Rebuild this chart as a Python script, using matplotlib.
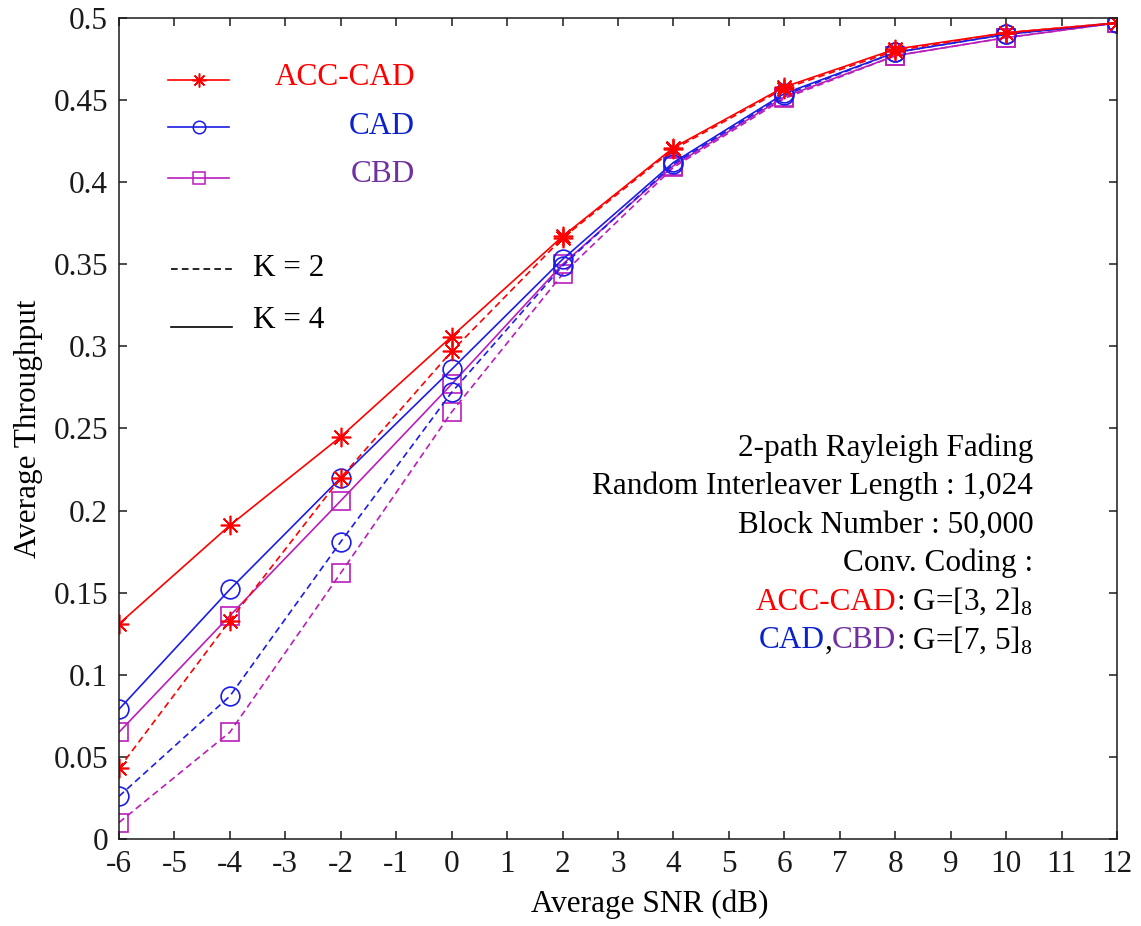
import numpy as np
import matplotlib
matplotlib.use("Agg")
import matplotlib.pyplot as plt
from matplotlib.lines import Line2D
from matplotlib.ticker import FormatStrFormatter

plt.rcParams['font.family'] = ['Liberation Serif', 'DejaVu Serif']
plt.rcParams['mathtext.fontset'] = 'custom'
plt.rcParams['mathtext.rm'] = 'Liberation Serif'
plt.rcParams['axes.unicode_minus'] = False

# DATA
snr = [-6, -4, -2, 0, 2, 4, 6, 8, 10, 12]
acc_k4 = [0.131, 0.191, 0.245, 0.306, 0.367, 0.421, 0.458, 0.481, 0.491, 0.497]
acc_k2 = [0.043, 0.133, 0.220, 0.297, 0.366, 0.420, 0.457, 0.480, 0.491, 0.497]
cad_k4 = [0.079, 0.152, 0.220, 0.286, 0.353, 0.412, 0.454, 0.479, 0.490, 0.497]
cad_k2 = [0.026, 0.087, 0.181, 0.272, 0.349, 0.411, 0.453, 0.479, 0.490, 0.497]
cbd_k4 = [0.065, 0.136, 0.206, 0.277, 0.350, 0.410, 0.452, 0.477, 0.488, 0.497]
cbd_k2 = [0.010, 0.065, 0.162, 0.260, 0.344, 0.409, 0.451, 0.477, 0.488, 0.497]

x_ticks = list(range(-6, 13))
y_ticks = [0, 0.05, 0.1, 0.15, 0.2, 0.25, 0.3, 0.35, 0.4, 0.45, 0.5]

info_lines = [
    [("2-path Rayleigh Fading", 'black')],
    [("Random Interleaver Length : 1,024", 'black')],
    [("Block Number : 50,000", 'black')],
    [("Conv. Coding :", 'black')],
    [("ACC-CAD", 'red'), (": G=[3, 2]$_8$", 'black')],
    [("CAD", '#0a22cc'), (",", 'black'), ("CBD", '#7030a0'), (": G=[7, 5]$_8$", 'black')],
]

# STIL
RED = '#ff0000'
BLUE = '#1c1ce6'
MAG = '#bb1dbb'
dash = (0, (4, 2.5))
star = (8, 2, 0)
lw = 1.2
fs = 22.5

fig = plt.figure(figsize=(11.41, 9.26), dpi=100)
ax = fig.add_axes([0.1043, 0.094, 0.8747, 0.8866])

series = [
    (cbd_k2, MAG, 's', dash), (cbd_k4, MAG, 's', '-'),
    (cad_k2, BLUE, 'o', dash), (cad_k4, BLUE, 'o', '-'),
    (acc_k2, RED, star, dash), (acc_k4, RED, star, '-'),
]
for y, c, m, ls in series:
    ms = 14 if m == star else 13.5
    ax.plot(snr, y, color=c, ls=ls, lw=lw, marker=m, ms=ms, mfc='none',
            mec=c, mew=1.2)

ax.set_xlim(-6, 12)
ax.set_ylim(0, 0.5)
ax.set_xticks(x_ticks)
ax.set_yticks(y_ticks)
ax.yaxis.set_major_formatter(FormatStrFormatter('%g'))
ax.tick_params(direction='in', length=6, width=1.1, top=True, right=True,
               labelsize=fs, colors='#1a1a1a', pad=8)
for s in ax.spines.values():
    s.set_linewidth(1.1)
    s.set_color('#1a1a1a')

ax.set_xlabel("Average SNR (dB)", fontsize=fs)
ax.xaxis.set_label_coords(0.532, -0.080)
ax.xaxis.label.set_va('center')
ax.set_ylabel("Average Throughput", fontsize=fs)
ax.yaxis.set_label_coords(-0.091, 0.5)
ax.yaxis.label.set_va('center')

# LEGENDE (egen tegning)
leg = [("ACC-CAD", RED, RED, star, '-', 0.9245, 0.928),
       ("CAD", BLUE, '#0a22cc', 'o', '-', 0.867, 0.868),
       ("CBD", MAG, '#7030a0', 's', '-', 0.805, 0.809)]
for lab, c, tc, m, ls, yl, yt in leg:
    ax.add_line(Line2D([0.049, 0.110], [yl, yl], transform=ax.transAxes,
                       color=c, lw=lw, ls=ls, clip_on=False))
    ax.add_line(Line2D([0.080], [yl], transform=ax.transAxes, color=c,
                       marker=m, ms=9 if m != star else 10, mfc='none', mec=c,
                       mew=1.1, ls='none', clip_on=False))
    ax.text(0.2966, yt, lab, color=tc, fontsize=fs, ha='right', va='center',
            transform=ax.transAxes)

for lab, ls, yl, yt in [("K = 2", dash, 0.694, 0.695), ("K = 4", '-', 0.6236, 0.632)]:
    ax.add_line(Line2D([0.052, 0.113], [yl, yl], transform=ax.transAxes,
                       color='black', lw=lw, ls=ls, clip_on=False))
    ax.text(0.134, yt, lab, color='black', fontsize=fs, ha='left', va='center',
            transform=ax.transAxes)

# INFOTEKST, hoyrejustert, flere farger
fig.canvas.draw()
r = fig.canvas.get_renderer()
x_right = 0.916
y0 = 0.4665
dy = 0.0469
for i, parts in enumerate(info_lines):
    xp, yp = ax.transAxes.transform((x_right, y0 - i * dy))
    for s, c in reversed(parts):
        t = fig.text(xp, yp, s, color=c, fontsize=fs, ha='right', va='baseline',
                     transform=None)
        xp -= t.get_window_extent(r).width

fig.savefig("out.png", dpi=100)
